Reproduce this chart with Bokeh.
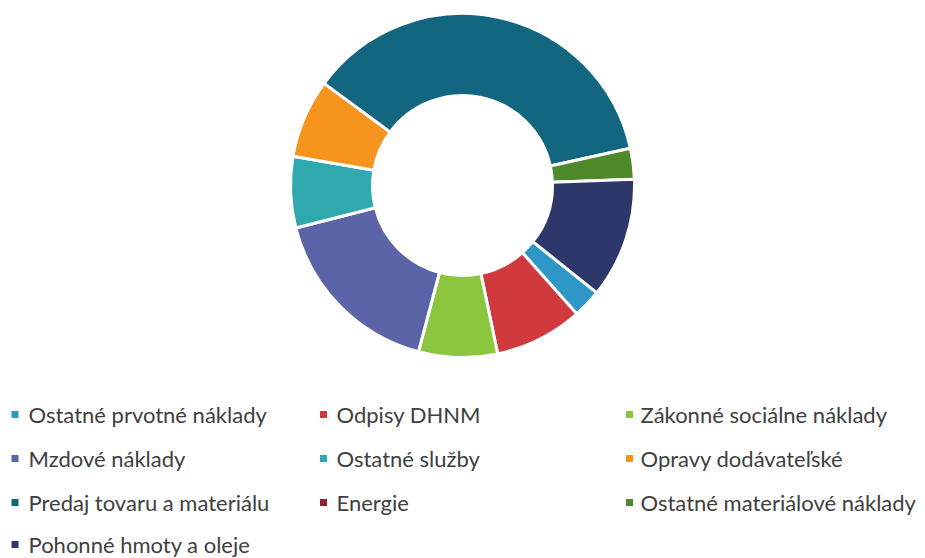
import math
from bokeh.plotting import figure
from bokeh.models import ColumnDataSource, Range1d
from bokeh.core.properties import value
from bokeh.embed import file_html
from bokeh.resources import INLINE

categories = [
    "Ostatné prvotné náklady",
    "Odpisy DHNM",
    "Zákonné sociálne náklady",
    "Mzdové náklady",
    "Ostatné služby",
    "Opravy dodávateľské",
    "Predaj tovaru a materiálu",
    "Energie",
    "Ostatné materiálové náklady",
    "Pohonné hmoty a oleje",
]
shares = [2.7, 8.3, 7.4, 16.9, 6.7, 7.4, 36.4, 0.0, 2.9, 11.3]
colors = [
    "#2F97C8", "#D0393E", "#8CC63E", "#5C64A8", "#2FA8AE",
    "#F6941E", "#13667F", "#8A2432", "#4E8A2C", "#2E3769",
]

W, H = 925, 558
first_slice_deg = 128.6  # clockwise from 12 o'clock

total = sum(shares)
wd = dict(cat=[], v=[], color=[], start=[], end=[])
cum = 0.0
for c, v, col in zip(categories, shares, colors):
    s = first_slice_deg + cum / total * 360.0
    e = s + v / total * 360.0
    cum += v
    if v <= 0:
        continue
    wd["cat"].append(c); wd["v"].append(v); wd["color"].append(col)
    wd["start"].append(math.radians(90.0 - s))
    wd["end"].append(math.radians(90.0 - e))
src = ColumnDataSource(wd)

p = figure(width=W, height=H, output_backend="svg", toolbar_location=None,
           x_range=Range1d(0, W), y_range=Range1d(0, H), min_border=0)
p.axis.visible = False
p.grid.visible = False
p.outline_line_color = None
p.background_fill_color = "white"
p.border_fill_color = "white"

cx, cy = 462, 373
p.annular_wedge(x=cx, y=cy, inner_radius=90, outer_radius=172,
                inner_radius_units="screen", outer_radius_units="screen",
                start_angle="start", end_angle="end", direction="clock",
                fill_color="color", line_color="white", line_width=3,
                source=src)

# legend, 3 columns, row-major
col_marker_x = [14.5, 323, 629]
col_text_x = [28, 336, 640]
row_y = [144, 100, 56, 14]
lx, ly, tx, ty = [], [], [], []
for i in range(len(categories)):
    c, r = i % 3, i // 3
    lx.append(col_marker_x[c]); ly.append(row_y[r])
    tx.append(col_text_x[c]); ty.append(row_y[r])
lsrc = ColumnDataSource(dict(mx=lx, my=ly, tx=tx, ty=ty, cat=categories, color=colors))
p.scatter(x="mx", y="my", marker="square", size=7, fill_color="color",
          line_color=None, source=lsrc)
p.text(x="tx", y="ty", text="cat", text_font=value("Lato"), text_font_size="22px",
       text_color="#404040", text_baseline="middle", text_align="left", source=lsrc)

open("out.html", "w").write(file_html(p, INLINE))
